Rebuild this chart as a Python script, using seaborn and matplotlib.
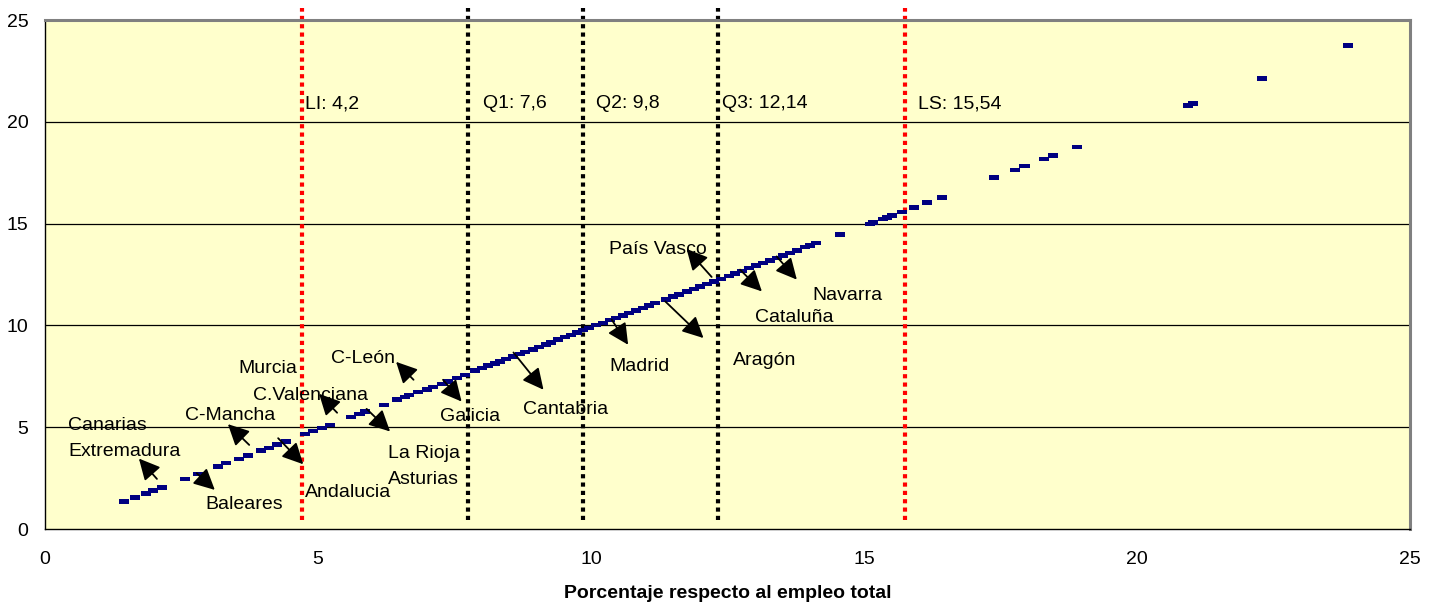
import matplotlib
matplotlib.use('Agg')
import matplotlib.pyplot as plt
import seaborn as sns
import pandas as pd

# -----------------------------
# Points (percentage of total employment)
# -----------------------------
pct_x = [1.45, 1.65, 1.85, 1.98, 2.14, 2.57, 2.81, 3.16, 3.31, 3.55, 3.72, 3.95, 4.10, 4.25, 4.41,
         4.76, 4.91, 5.07, 5.22, 5.60, 5.76, 5.86, 6.20, 6.44, 6.59, 6.67, 6.84, 6.99, 7.11, 7.27,
         7.39, 7.54, 7.69, 7.88, 8.00,
         8.12, 8.24, 8.33, 8.45, 8.58, 8.70, 8.80, 8.93, 9.05, 9.17, 9.27, 9.40, 9.52, 9.63, 9.75,
         9.85, 9.97, 10.10, 10.22, 10.35, 10.46, 10.58, 10.70, 10.82, 10.95, 11.06, 11.18, 11.37,
         11.50, 11.62, 11.75, 11.88, 12.00, 12.12, 12.25, 12.38, 12.52, 12.63, 12.77, 12.90, 13.03,
         13.15, 13.28, 13.40, 13.52, 13.65, 13.78, 13.92, 14.01, 14.13,
         14.56, 15.11, 15.17, 15.34, 15.43, 15.51, 15.70, 15.92, 16.16, 16.42, 17.39, 17.77, 17.94,
         18.30, 18.46, 18.91, 20.93, 21.03, 22.29, 23.86]
pct_y = [1.34, 1.55, 1.74, 1.90, 2.05, 2.46, 2.71, 3.08, 3.23, 3.44, 3.62, 3.85, 3.99, 4.14, 4.29,
         4.67, 4.82, 4.95, 5.11, 5.50, 5.66, 5.78, 6.10, 6.35, 6.49, 6.58, 6.72, 6.84, 6.97, 7.12,
         7.25, 7.41, 7.57, 7.78, 7.90,
         8.02, 8.13, 8.22, 8.35, 8.47, 8.60, 8.70, 8.82, 8.94, 9.07, 9.17, 9.30, 9.42, 9.54, 9.66,
         9.77, 9.88, 10.01, 10.13, 10.26, 10.37, 10.49, 10.61, 10.73, 10.86, 10.97, 11.09, 11.28,
         11.41, 11.53, 11.66, 11.79, 11.91, 12.03, 12.16, 12.29, 12.43, 12.54, 12.68, 12.81, 12.94,
         13.06, 13.19, 13.31, 13.43, 13.56, 13.69, 13.84, 13.92, 14.04,
         14.46, 14.99, 15.06, 15.22, 15.30, 15.40, 15.56, 15.78, 16.03, 16.29, 17.26, 17.64, 17.82,
         18.18, 18.35, 18.77, 20.80, 20.89, 22.13, 23.74]

# Limits / quartiles
cut_x = [4.71, 7.75, 9.85, 12.33, 15.75]
cut_labels = ['LI: 4,2', 'Q1: 7,6', 'Q2: 9,8', 'Q3: 12,14', 'LS: 15,54']
cut_colors = ['red', 'black', 'black', 'black', 'red']
cut_label_x = [4.76, 8.02, 10.1, 12.4, 15.99]

# Region labels
region_names = ['Canarias', 'Extremadura', 'Baleares', 'C-Mancha', 'Andalucia', 'Murcia',
                'C.Valenciana', 'C-León', 'La Rioja', 'Asturias', 'Galicia', 'Cantabria',
                'Madrid', 'Aragón', 'País Vasco', 'Cataluña', 'Navarra']
region_tx = [0.42, 0.42, 2.93, 2.56, 4.76, 3.55, 3.81, 5.24, 6.28, 6.28, 7.23, 8.75,
             10.33, 12.60, 10.33, 13.0, 14.05]
region_ty = [5.07, 3.79, 1.18, 5.56, 1.77, 7.87, 6.54, 8.36, 3.69, 2.41, 5.51, 5.85,
             7.97, 8.26, 13.72, 10.38, 11.46]

# Arrows: tail -> tip
arrow_tail = [(2.05, 2.46), (2.78, 2.74), (3.74, 4.13), (4.27, 4.46), (5.35, 5.71), (6.75, 7.33),
              (5.89, 5.90), (7.29, 7.33), (8.58, 8.67), (10.38, 10.28), (11.36, 11.18),
              (12.21, 12.38), (12.73, 12.74), (13.40, 13.39)]
arrow_tip = [(1.72, 3.46), (3.11, 1.92), (3.35, 5.15), (4.73, 3.18), (5.02, 6.64), (6.43, 8.21),
             (6.32, 4.79), (7.63, 6.26), (9.13, 6.84), (10.68, 9.05), (12.06, 9.38),
             (11.75, 13.76), (13.13, 11.67), (13.77, 12.25)]

df = pd.DataFrame({'x': pct_x, 'y': pct_y})

sns.set_style('white')
plt.rcParams['font.family'] = ['Liberation Sans', 'DejaVu Sans']
plt.rcParams['text.color'] = 'black'
plt.rcParams['axes.labelcolor'] = 'black'
plt.rcParams['xtick.color'] = 'black'
plt.rcParams['ytick.color'] = 'black'

fig = plt.figure(figsize=(14.38, 6.07), dpi=100)
ax = fig.add_axes([0.0313, 0.1285, 0.9492, 0.8385])
ax.set_facecolor('#FFFFCC')

# horizontal grid
for gy in [5, 10, 15, 20]:
    ax.axhline(gy, color='black', lw=0.9, zorder=1)

# dotted reference lines
for cx, col, lab, lx in zip(cut_x, cut_colors, cut_labels, cut_label_x):
    ax.vlines(cx, 0.44, 25.6, colors=col, lw=3, linestyles=(0, (1, 1)), clip_on=False, zorder=2)
    ax.text(lx, 20.9, lab, fontsize=14, ha='left', va='center', zorder=5)

dash = [(-1, -0.45), (1, -0.45), (1, 0.45), (-1, 0.45)]
sns.scatterplot(data=df, x='x', y='y', marker=dash, s=52, color='#000080',
                edgecolor='none', linewidth=0, ax=ax, zorder=4)

for name, tx, ty in zip(region_names, region_tx, region_ty):
    ax.text(tx, ty, name, fontsize=14, ha='left', va='center', zorder=5)

for t, h in zip(arrow_tail, arrow_tip):
    ax.annotate('', xy=h, xytext=t,
                arrowprops=dict(arrowstyle='-|>', mutation_scale=32, lw=1.3, color='black',
                                shrinkA=0, shrinkB=0), zorder=6)

ax.set_xlim(0, 25)
ax.set_ylim(0, 25)
ax.set_xticks([0, 5, 10, 15, 20, 25])
ax.set_yticks([0, 5, 10, 15, 20, 25])
ax.tick_params(axis='both', direction='out', length=5, width=1, color='black', labelsize=14)
ax.tick_params(axis='x', pad=11)
ax.tick_params(axis='y', pad=7)
ax.set_xlabel('Porcentaje respecto al empleo total', fontsize=14, fontweight='bold', labelpad=12)
ax.set_ylabel('')

for side in ['left', 'bottom']:
    ax.spines[side].set_color('black')
    ax.spines[side].set_linewidth(1)
for side in ['top', 'right']:
    ax.spines[side].set_color('#808080')
    ax.spines[side].set_linewidth(2.2)

plt.savefig('out.png', dpi=100)
